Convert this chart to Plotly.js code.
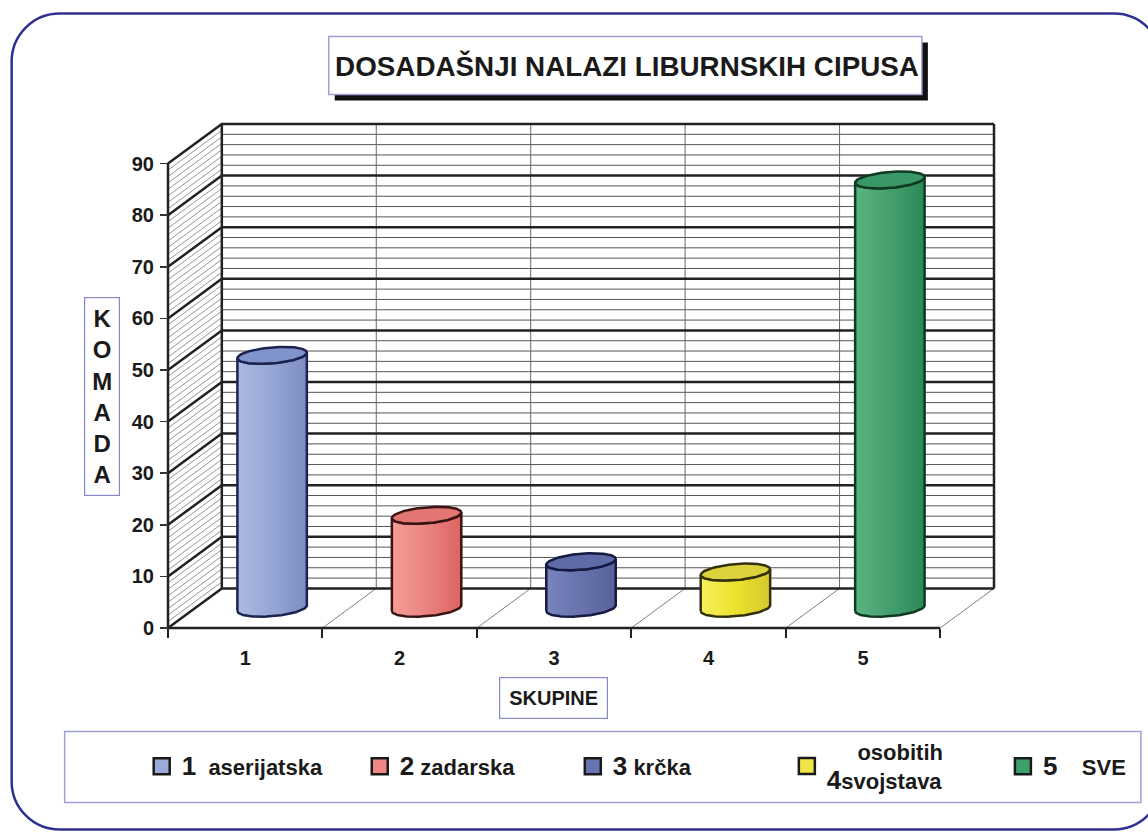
<!DOCTYPE html>
<html><head><meta charset="utf-8">
<script src="https://cdn.plot.ly/plotly-3.0.1.min.js"></script>
<style>html,body{margin:0;padding:0;background:#fff;overflow:hidden}#chart{width:1148px;height:833px}</style>
</head><body><div id="chart"></div>
<script>
// ---------------- data ----------------
const categories = ['1', '2', '3', '4', '5'];
const groupNames = ['aserijatska', 'zadarska', 'krčka', 'osobitih svojstava', 'SVE'];
const values = [49, 18, 9, 7, 83];
const yTickValues = [0, 10, 20, 30, 40, 50, 60, 70, 80, 90];
const yMax = 90;
const minorStep = 2;
const titleText = 'DOSADAŠNJI NALAZI LIBURNSKIH CIPUSA';
const yTitle = 'KOMADA';
const xTitle = 'SKUPINE';

// ---------------- styles ----------------
const bodyLeft  = ['#abbae1', '#f49d95', '#7784be', '#f7ef5c', '#59b482'];
const bodyMid   = ['#96a6d5', '#ea8480', '#6873ad', '#ece22e', '#45a06e'];
const bodyRight = ['#7d8cc0', '#dd6463', '#57629a', '#d6c72d', '#2d8858'];
const topColors = ['#8193cb', '#e37673', '#5e6ba6', '#dcd23e', '#3a9868'];
const edgeColors = ['#1c2350', '#3a1414', '#141a40', '#33310c', '#0e3a22'];
const swatch = ['#9aabd9', '#ef8884', '#6674b1', '#f1e647', '#3ea06b'];
const FONT = 'Liberation Sans, Arial, sans-serif';

// ---------------- geometry ----------------
const W = 1148, H = 833;
const frontLeftPx = 168.3, catPx = 154.4, depthXPx = 53.8;
const zeroPx = 628.5, unitPx = 5.16, depthYPx = 39.6;
const pad = 10;
const n = categories.length;
const DX = depthXPx / catPx, DY = depthYPx / unitPx;
const xmin = 0.5 - pad / catPx, xmax = n + 0.5 + DX + pad / catPx;
const ymin = -pad / unitPx, ymax = yMax + DY + pad / unitPx;
const mL = frontLeftPx - pad;
const plotW = (xmax - xmin) * catPx;
const mR = W - mL - plotW;
const mT = zeroPx - (yMax + DY) * unitPx - pad;
const plotH = (ymax - ymin) * unitPx;
const mB = H - mT - plotH;
const PX = px => (px - mL) / plotW;
const PY = py => (H - mB - py) / plotH;

// ---------------- traces ----------------
const traces = [];
function addLine(xs, ys, color, width) {
  traces.push({type: 'scatter', mode: 'lines', x: xs, y: ys, line: {color: color, width: width},
    hoverinfo: 'skip', showlegend: false});
}
const bx0 = 0.5 + DX, bx1 = n + 0.5 + DX;
let xs = [], ys = [];
// side wall hatch
for (let v = 0; v <= yMax + 1e-9; v += 1.25) {
  if (Math.abs(v % 10) < 1e-9) continue;
  xs.push(0.5, 0.5 + DX, null); ys.push(v, v + DY, null);
}
addLine(xs, ys, '#7a7a7a', 0.8);
// back wall minor gridlines
xs = []; ys = [];
for (let v = minorStep; v < yMax; v += minorStep) {
  if (v % 10 === 0) continue;
  xs.push(bx0, bx1, null); ys.push(v + DY, v + DY, null);
}
addLine(xs, ys, '#555', 1);
// back wall vertical category lines
xs = []; ys = [];
for (let k = 1; k < n; k++) { xs.push(k + 0.5 + DX, k + 0.5 + DX, null); ys.push(DY, yMax + DY, null); }
addLine(xs, ys, '#666', 1);
// floor diagonals
xs = []; ys = [];
for (let k = 1; k <= n; k++) { xs.push(k + 0.5, k + 0.5 + DX, null); ys.push(0, DY, null); }
addLine(xs, ys, '#808080', 1);
// major gridlines (side + back)
xs = []; ys = [];
yTickValues.forEach(v => { xs.push(0.5, 0.5 + DX, bx1, null); ys.push(v, v + DY, v + DY, null); });
addLine(xs, ys, '#222', 2.5);
// wall edges and floor front
addLine([0.5, 0.5, null, bx0, bx0, null, bx1, bx1, null, 0.5, n + 0.5],
        [0, yMax, null, DY, yMax + DY, null, DY, yMax + DY, null, 0, 0], '#222', 2.5);

// cylinders
const R = 0.212, KZ = 0.215, NP = 72;
const t0 = Math.atan2(DX * KZ, R);
function ell(i, v, t) {
  const z = 0.5 + KZ * Math.sin(t);
  return [i + 1 + DX * z + R * Math.cos(t), v + DY * z];
}
values.forEach((v, i) => {
  const bx = [], by = [];
  for (let j = 0; j <= NP; j++) { const p = ell(i, 0, t0 + Math.PI + Math.PI * j / NP); bx.push(p[0]); by.push(p[1]); }
  for (let j = NP; j >= 0; j--) { const p = ell(i, v, t0 + Math.PI + Math.PI * j / NP); bx.push(p[0]); by.push(p[1]); }
  bx.push(bx[0]); by.push(by[0]);
  traces.push({type: 'scatter', mode: 'lines', x: bx, y: by, fill: 'toself',
    fillgradient: {type: 'horizontal', colorscale: [[0, bodyLeft[i]], [0.5, bodyMid[i]], [1, bodyRight[i]]]},
    line: {color: edgeColors[i], width: 2.5}, hoverinfo: 'skip', showlegend: false});
  const tx = [], ty = [];
  for (let j = 0; j <= NP * 2; j++) { const p = ell(i, v, Math.PI * j / NP); tx.push(p[0]); ty.push(p[1]); }
  traces.push({type: 'scatter', mode: 'lines', x: tx, y: ty, fill: 'toself', fillcolor: topColors[i],
    line: {color: edgeColors[i], width: 2.5}, hoverinfo: 'skip', showlegend: false});
});

// legend entries (one small legend per group, placed like the original)
const num = s => "<span style='font-size:26px'>" + s + "</span>";
const sp = k => '&nbsp;'.repeat(k);
const legendLabels = [
  num(categories[0]) + sp(2) + groupNames[0],
  num(categories[1]) + sp(1) + groupNames[1],
  num(categories[2]) + sp(1) + groupNames[2],
  sp(5) + groupNames[3].split(' ')[0] + '<br>' + num(categories[3]) + groupNames[3].split(' ')[1],
  num(categories[4]) + sp(4) + groupNames[4]
];
const legendTextLeftPx = [182, 400, 613, 827, 1043];
const legendKeys = ['legend', 'legend2', 'legend3', 'legend4', 'legend5'];
categories.forEach((c, i) => {
  traces.push({type: 'scatter', mode: 'markers', x: [null], y: [null], name: legendLabels[i],
    legend: legendKeys[i],
    marker: {symbol: 'square', size: 16, color: swatch[i], line: {color: '#1a1a1a', width: 2.5}},
    hoverinfo: 'skip', showlegend: true});
});

// ---------------- layout ----------------
function rrect(x0, y0, x1, y1, r) {
  const p = (x, y) => PX(x).toFixed(5) + ',' + PY(y).toFixed(5);
  const k = r * 0.4477;
  return 'M' + p(x0 + r, y0) + ' L' + p(x1 - r, y0) +
    ' C' + p(x1 - k, y0) + ' ' + p(x1, y0 + k) + ' ' + p(x1, y0 + r) +
    ' L' + p(x1, y1 - r) + ' C' + p(x1, y1 - k) + ' ' + p(x1 - k, y1) + ' ' + p(x1 - r, y1) +
    ' L' + p(x0 + r, y1) + ' C' + p(x0 + k, y1) + ' ' + p(x0, y1 - k) + ' ' + p(x0, y1 - r) +
    ' L' + p(x0, y0 + r) + ' C' + p(x0, y0 + k) + ' ' + p(x0 + k, y0) + ' ' + p(x0 + r, y0) + ' Z';
}
const rect = (x0, y0, x1, y1, fill, lc, lw) => ({type: 'rect', xref: 'paper', yref: 'paper',
  x0: PX(x0), x1: PX(x1), y0: PY(y1), y1: PY(y0), fillcolor: fill, line: {color: lc, width: lw}, layer: 'below'});

const boundaries = [];
for (let k = 0; k <= n; k++) boundaries.push(k + 0.5);

const layout = {
  width: W, height: H,
  margin: {l: mL, r: mR, t: mT, b: mB, pad: 0},
  paper_bgcolor: '#ffffff', plot_bgcolor: 'rgba(0,0,0,0)',
  showlegend: true,
  title: {text: titleText, xref: 'container', yref: 'container', x: 627 / W, xanchor: 'center',
    y: 1 - 66.5 / H, yanchor: 'middle', font: {family: FONT, size: 27.8, weight: 'bold', color: '#1a1a1a'}},
  xaxis: {range: [xmin, xmax], showgrid: false, zeroline: false, showline: false, fixedrange: true,
    tickmode: 'array', tickvals: categories.map((c, i) => i + 1), ticktext: categories, ticks: '',
    tickfont: {family: FONT, size: 20, weight: 'bold', color: '#1a1a1a'},
    anchor: 'free', position: pad / plotH, ticklabelstandoff: 16,
    minor: {tickmode: 'array', tickvals: boundaries, ticks: 'outside', ticklen: 9, tickwidth: 2, tickcolor: '#222', showgrid: false}},
  yaxis: {range: [ymin, ymax], showgrid: false, zeroline: false, showline: false, fixedrange: true,
    tickmode: 'array', tickvals: yTickValues, ticks: 'outside', ticklen: 8, tickwidth: 1.5, tickcolor: '#333',
    tickfont: {family: FONT, size: 20, weight: 'bold', color: '#1a1a1a'},
    anchor: 'free', position: pad / plotW, ticklabelstandoff: 2},
  shapes: [
    {type: 'path', xref: 'paper', yref: 'paper', path: rrect(12, 14, 1162, 830, 48),
      line: {color: '#2e3192', width: 2.5}, fillcolor: 'rgba(0,0,0,0)', layer: 'below'},
    rect(335, 43, 928, 101, '#111111', '#111111', 0),
    rect(329, 37, 922, 95, '#ffffff', '#a0a0d8', 1.5),
    rect(65, 732, 1141, 803, '#ffffff', '#a0a0d8', 1.5)
  ],
  annotations: [
    {text: yTitle.split('').join('<br>'), xref: 'paper', yref: 'paper', x: PX(102), y: PY(396.5),
      xanchor: 'center', yanchor: 'middle', showarrow: false, bordercolor: '#8888cc', borderwidth: 1.2,
      borderpad: 7, bgcolor: '#ffffff', font: {family: FONT, size: 24, weight: 'bold', color: '#1a1a1a'}},
    {text: xTitle, xref: 'paper', yref: 'paper', x: PX(554), y: PY(698.5),
      xanchor: 'center', yanchor: 'middle', showarrow: false, bordercolor: '#8888cc', borderwidth: 1.2,
      borderpad: 9, bgcolor: '#ffffff', font: {family: FONT, size: 20, weight: 'bold', color: '#1a1a1a'}}
  ]
};
legendKeys.forEach((key, i) => {
  layout[key] = {x: PX(legendTextLeftPx[i] - 40), y: PY(767), xanchor: 'left', yanchor: 'middle',
    orientation: 'h', valign: 'middle',
    font: {family: FONT, size: 22, weight: 'bold', color: '#1a1a1a'},
    bgcolor: 'rgba(0,0,0,0)', borderwidth: 0, itemclick: false, itemdoubleclick: false};
});

Plotly.newPlot('chart', traces, layout, {staticPlot: true, displayModeBar: false});
</script>
</body></html>
